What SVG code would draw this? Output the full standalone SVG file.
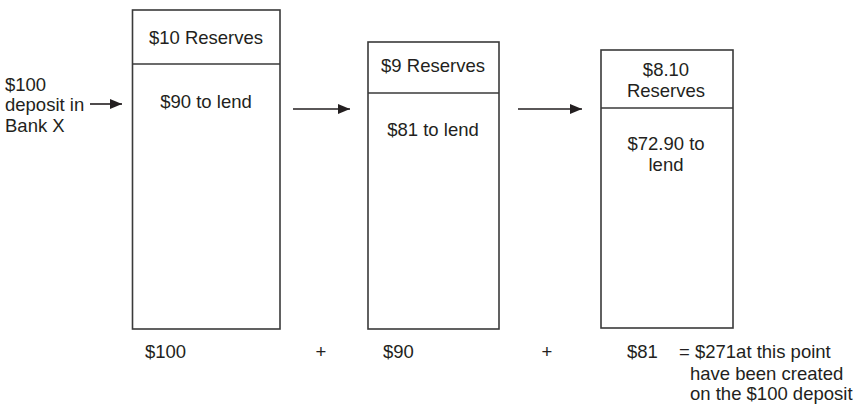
<svg xmlns="http://www.w3.org/2000/svg" width="860" height="405" viewBox="0 0 860 405">
  <style>
    .box { fill: #ffffff; stroke: #3a3a3a; stroke-width: 1.6; }
    .div { stroke: #3a3a3a; stroke-width: 1.6; }
    .t { font-family: "Liberation Sans", Arial, sans-serif; font-size: 18.5px; fill: #231f20; }
    .c { text-anchor: middle; }
    .arrow { stroke: #231f20; stroke-width: 1.6; fill: none; }
  </style>
  <defs>
    <marker id="ah" markerWidth="12" markerHeight="11" refX="12" refY="5.5" orient="auto" markerUnits="userSpaceOnUse">
      <polygon points="0,0.5 12,5.5 0,10.5" fill="#231f20"/>
    </marker>
  </defs>
  <rect width="860" height="405" fill="#ffffff"/>

  <g id="deposit-label">
    <text class="t" x="5" y="91">$100</text>
    <text class="t" x="5" y="111">deposit in</text>
    <text class="t" x="5" y="132">Bank X</text>
  </g>

  <g id="bank1">
    <rect class="box" x="132.5" y="10" width="147.5" height="319"/>
    <line class="div" x1="132.5" y1="64" x2="280" y2="64"/>
    <text class="t c" x="206" y="44">$10 Reserves</text>
    <text class="t c" x="206" y="108">$90 to lend</text>
  </g>

  <g id="bank2">
    <rect class="box" x="368" y="42" width="131" height="287"/>
    <line class="div" x1="368" y1="93" x2="499" y2="93"/>
    <text class="t c" x="433" y="72">$9 Reserves</text>
    <text class="t c" x="433" y="136">$81 to lend</text>
  </g>

  <g id="bank3">
    <rect class="box" x="601" y="50" width="132" height="278"/>
    <line class="div" x1="601" y1="108" x2="733" y2="108"/>
    <text class="t c" x="666" y="76">$8.10</text>
    <text class="t c" x="666" y="97">Reserves</text>
    <text class="t c" x="666" y="150">$72.90 to</text>
    <text class="t c" x="666" y="171">lend</text>
  </g>

  <g id="connectors">
    <line class="arrow" x1="90" y1="104" x2="122" y2="104" marker-end="url(#ah)"/>
    <line class="arrow" x1="293" y1="109" x2="350" y2="109" marker-end="url(#ah)"/>
    <line class="arrow" x1="518" y1="109" x2="582" y2="109" marker-end="url(#ah)"/>
  </g>

  <g id="sum">
    <text class="t" x="145" y="358">$100</text>
    <text class="t c" x="321" y="358">+</text>
    <text class="t" x="383" y="358">$90</text>
    <text class="t c" x="547" y="358">+</text>
    <text class="t" x="627" y="358">$81</text>
    <text class="t" x="679" y="358">= $271at this point</text>
    <text class="t" x="690" y="379.5">have been created</text>
    <text class="t" x="690" y="400">on the $100 deposit</text>
  </g>
</svg>
